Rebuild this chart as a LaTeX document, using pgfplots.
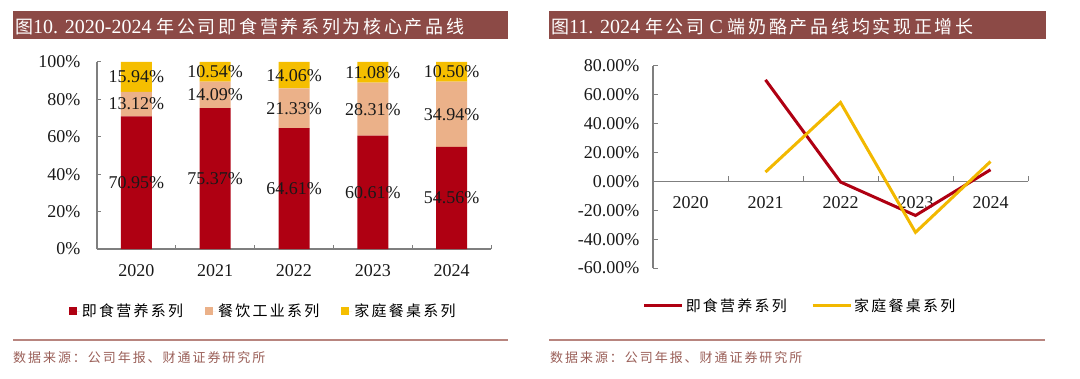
\documentclass[border=0pt]{standalone}
\usepackage{pgfplots}
\pgfplotsset{compat=1.18}
\usepackage{pgfplotstable}
\usepackage{fontspec}
\setmainfont{Liberation Serif}
\newfontfamily\cjk{Noto Sans CJK SC}[LetterSpace=15]
\definecolor{cRed}{HTML}{AF0012}
\definecolor{cPeach}{HTML}{EBB189}
\definecolor{cYellow}{HTML}{F5BE00}
\definecolor{cLineY}{HTML}{F2B800}
\definecolor{cTitle}{HTML}{8C4A46}
\definecolor{cRule}{HTML}{B8857F}
\definecolor{cSrc}{HTML}{9A5F58}
\definecolor{cAxis}{HTML}{7F7F7F}

\pgfplotstableread{
x a b c
0 70.95 13.12 15.94
1 75.37 14.09 10.54
2 64.61 21.33 14.06
3 60.61 28.31 11.08
4 54.56 34.94 10.50
}\shares

\pgfplotstableread{
x y v
0 35.475 70.95
0 77.51 13.12
0 92.04 15.94
1 37.685 75.37
1 82.415 14.09
1 94.73 10.54
2 32.305 64.61
2 75.275 21.33
2 92.97 14.06
3 30.305 60.61
3 74.765 28.31
3 94.46 11.08
4 27.28 54.56
4 72.03 34.94
4 94.75 10.50
}\barlabels

\pgfplotstableread{
x r y
1 70.4 6.5
2 -0.4 54.7
3 -23.6 -35.3
4 8.1 13.8
}\growth

\begin{document}
\begin{tikzpicture}[x=1pt,y=1pt]
\path[use as bounding box] (0,0) rectangle (1080,378);
% title bars
\fill[cTitle] (13,339) rectangle (508,367);
\node[anchor=base west,inner sep=0pt,text=white,font=\fontsize{20}{22}\selectfont] at (15,344)
  {{\cjk\fontsize{18}{20}\selectfont 图}10. 2020-2024 {\cjk\fontsize{18}{20}\selectfont 年公司即食营养系列为核心产品线}};
\fill[cTitle] (549,339) rectangle (1046,367);
\node[anchor=base west,inner sep=0pt,text=white,font=\fontsize{20}{22}\selectfont] at (551,344)
  {{\cjk\fontsize{18}{20}\selectfont 图}11. 2024 {\cjk\fontsize{18}{20}\selectfont 年公司} C {\cjk\fontsize{18}{20}\selectfont 端奶酪产品线均实现正增长}};
% rules and sources
\draw[cRule,line width=1.5pt] (13,38) -- (508,38);
\draw[cRule,line width=1.5pt] (549,38) -- (1045,38);
\node[anchor=base west,inner sep=0pt,text=cSrc] at (13,16) {\cjk\fontsize{13}{15}\selectfont 数据来源：公司年报、财通证券研究所};
\node[anchor=base west,inner sep=0pt,text=cSrc] at (550,16) {\cjk\fontsize{13}{15}\selectfont 数据来源：公司年报、财通证券研究所};

% left: stacked bars
\begin{axis}[
  at={(97pt,129pt)}, anchor=south west,
  scale only axis, width=394pt, height=187pt,
  ybar stacked, bar width=31pt,
  xmin=-0.5, xmax=4.5, ymin=0, ymax=100,
  axis x line=bottom, axis y line=left,
  axis line style={cAxis, line width=1.2pt, -},
  xtick={-0.5,0.5,...,4.5}, xticklabels={},
  extra x ticks={0,1,2,3,4},
  extra x tick labels={2020,2021,2022,2023,2024},
  extra x tick style={major tick length=0pt},
  ytick={0,20,...,100}, yticklabels={0\%,20\%,40\%,60\%,80\%,100\%},
  tick align=inside, major tick length=4pt,
  tick style={cAxis, line width=1pt},
  ticklabel style={font=\fontsize{18}{20}\selectfont, text=black!90},
  xticklabel style={yshift=-12pt},
  yticklabel style={xshift=-13pt},
  legend columns=3,
  legend style={draw=none, fill=none, at={(0.422,-0.3316)}, anchor=center,
    font=\cjk\fontsize{15}{17}\selectfont, inner sep=0pt,
    /tikz/every even column/.append style={column sep=20pt}},
  legend image code/.code={\fill[#1] (0pt,-4pt) rectangle (8pt,4pt); \path (0pt,0pt) -- (11pt,0pt);},
]
\addplot[fill=cRed, draw=none] table[x=x,y=a]{\shares};
\addplot[fill=cPeach, draw=none] table[x=x,y=b]{\shares};
\addplot[fill=cYellow, draw=none] table[x=x,y=c]{\shares};
\legend{即食营养系列,餐饮工业系列,家庭餐桌系列}
\end{axis}
% overlay for segment labels
\begin{axis}[
  at={(97pt,129pt)}, anchor=south west,
  scale only axis, width=394pt, height=187pt,
  xmin=-0.5, xmax=4.5, ymin=0, ymax=100,
  hide axis, clip=false,
  /pgf/number format/assume math mode=true,
]
\addplot[draw=none, mark=none, point meta=explicit,
  nodes near coords={\pgfmathprintnumber[fixed,fixed zerofill,precision=2]{\pgfplotspointmeta}\%},
  every node near coord/.append style={anchor=center, font=\fontsize{18}{20}\selectfont, text=black!90}]
  table[x=x,y=y,meta=v]{\barlabels};
\end{axis}

% right: lines
\begin{axis}[
  at={(653pt,110pt)}, anchor=south west,
  scale only axis, width=375pt, height=202pt,
  xmin=-0.5, xmax=4.5, ymin=-60, ymax=80,
  axis x line=middle, axis y line=left,
  axis line style={cAxis, line width=1.2pt, -},
  hide obscured x ticks=false, hide obscured y ticks=false,
  xtick={-0.5,0.5,...,4.5}, xticklabels={},
  extra x ticks={0,1,2,3,4},
  extra x tick labels={2020,2021,2022,2023,2024},
  extra x tick style={major tick length=0pt},
  ytick={-60,-40,...,80},
  yticklabels={-60.00\%,-40.00\%,-20.00\%,0.00\%,20.00\%,40.00\%,60.00\%,80.00\%},
  tick align=inside, major tick length=5pt,
  tick style={cAxis, line width=1pt},
  ticklabel style={font=\fontsize{18}{20}\selectfont, text=black!90},
  xticklabel style={yshift=-12pt},
  yticklabel style={xshift=-10pt},
  legend columns=2,
  legend style={draw=none, fill=none, at={(0.392,-0.188)}, anchor=center,
    font=\cjk\fontsize{15}{17}\selectfont, inner sep=0pt,
    /tikz/every even column/.append style={column sep=22pt}},
  legend image code/.code={\draw[#1] (0pt,0pt) -- (38pt,0pt);},
]
\addplot[cRed, line width=3pt, mark=none] table[x=x,y=r]{\growth};
\addplot[cLineY, line width=3pt, mark=none] table[x=x,y=y]{\growth};
\legend{即食营养系列,家庭餐桌系列}
\end{axis}
\end{tikzpicture}
\end{document}
